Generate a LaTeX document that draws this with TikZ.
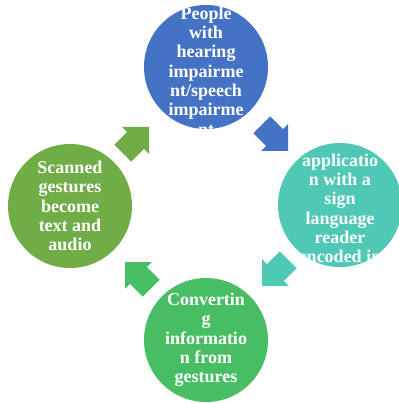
\documentclass[tikz,border=0pt]{standalone}
\usepackage{fontspec}
\setmainfont{Liberation Serif}
\begin{document}
\begin{tikzpicture}[x=1pt,y=-1pt,
  disc/.style={circle,minimum size=124pt,inner sep=0pt,draw=none},
  lbl/.style={align=center,text=white,font=\fontsize{18}{19.3}\selectfont\bfseries,inner sep=0pt},
  blk/.pic={\fill (0,0) -- (-19,19) -- (-19,12) -- (-37,12) -- (-37,-12) -- (-19,-12) -- (-19,-19) -- cycle;}]
\definecolor{cblue}{HTML}{4472C4}
\definecolor{cteal}{HTML}{4FC9B5}
\definecolor{cgreen}{HTML}{47BE63}
\definecolor{colive}{HTML}{70AD47}
\useasboundingbox[fill=white] (0,0) rectangle (398,403);
\node[disc,fill=cblue] (top) at (206,67) {};
\node[disc,fill=cteal] (right) at (340,205) {};
\node[disc,fill=cgreen] (bottom) at (206,340) {};
\node[disc,fill=colive] (left) at (70,206) {};
\node[lbl] (ttop) at (206,71) {People\\with\\hearing\\impairme\\nt/speech\\impairme\\nt};
\node[lbl] (tright) at (340,218) {applicatio\\n with a\\sign\\language\\reader\\encoded in\\it};
\node[lbl] (tbottom) at (206,340) {Convertin\\g\\informatio\\n from\\gestures};
\node[lbl] (tleft) at (70,206) {Scanned\\gestures\\become\\text and\\audio};
\fill[cblue] (288,151) pic[rotate=-45] {blk};
\fill[cteal] (262,286) pic[rotate=-135] {blk};
\fill[cgreen] (125,262) pic[rotate=135] {blk};
\fill[colive] (149,127) pic[rotate=45] {blk};
\end{tikzpicture}
\end{document}
